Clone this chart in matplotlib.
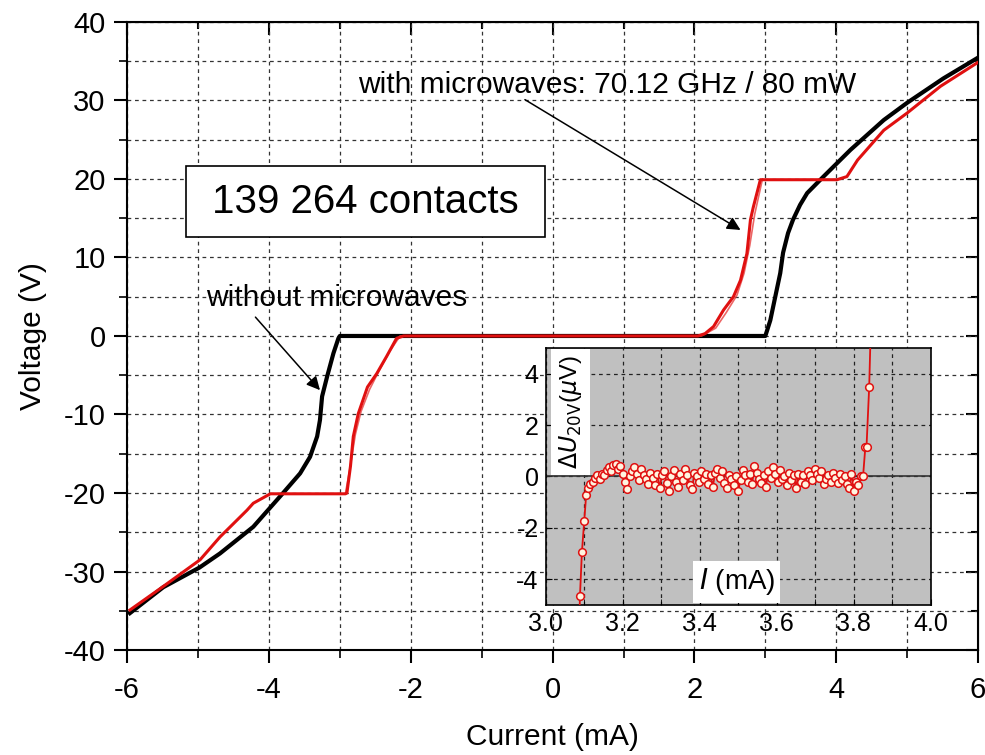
import numpy as np
import matplotlib.pyplot as plt
from matplotlib.patches import Rectangle

plt.rcParams['font.family'] = ['Liberation Sans', 'DejaVu Sans']

# main I-V curves (current in mA, voltage in V)
black_i = [-5.96, -5.49, -4.98, -4.69, -4.22, -3.80, -3.56, -3.42, -3.32, -3.28,
           -3.25, -3.18, -3.09, -3.02, -3.0, 3.0, 3.07, 3.14, 3.21, 3.25, 3.32,
           3.39, 3.49, 3.59, 3.82, 4.2, 4.67, 5.0, 5.51, 5.99]
black_v = [-35.3, -32.0, -29.5, -27.7, -24.3, -20.0, -17.5, -15.4, -12.8, -10.7,
           -7.7, -5.2, -2.2, -0.3, 0.0, 0.0, 2.0, 5.0, 8.0, 10.6, 13.1,
           14.8, 16.7, 18.2, 20.3, 23.7, 27.5, 29.7, 32.8, 35.4]

red_i = [-5.96, -5.49, -4.97, -4.69, -4.31, -4.22, -3.98, -2.92, -2.9, -2.85,
         -2.81, -2.74, -2.61, -2.48, -2.34, -2.2, -2.1, 2.05, 2.15, 2.27, 2.41,
         2.55, 2.65, 2.74, 2.79, 2.83, 2.93, 4.01, 4.15, 4.30, 4.67, 5.0, 5.47, 5.99]
red_v = [-34.9, -31.9, -28.5, -25.6, -22.2, -21.3, -20.1, -20.1, -20.0, -16.6,
         -12.8, -9.9, -6.5, -4.8, -2.6, -0.3, 0.0, 0.0, 0.3, 1.2, 3.3,
         5.0, 7.1, 10.5, 14.8, 16.4, 19.9, 19.9, 20.3, 22.4, 26.2, 28.4, 31.8, 34.8]

# second (return) sweep with microwaves, visible only on the steps
red2_i = [-2.92, -2.86, -2.78, -2.70, -2.58, -2.45, -2.30, -2.15,
          2.10, 2.30, 2.45, 2.60, 2.70, 2.78, 2.85, 2.96]
red2_v = [-20.0, -17.0, -12.5, -9.6, -6.8, -4.5, -2.0, 0.0,
          0.0, 1.0, 3.0, 5.2, 8.0, 11.5, 15.5, 20.0]

# inset: deviation from the 20 V step
inset_i = [3.089, 3.094, 3.100, 3.105,
           3.110, 3.116, 3.122, 3.128, 3.134, 3.140, 3.146, 3.152, 3.158, 3.164,
           3.170, 3.176, 3.182, 3.188, 3.194, 3.200, 3.206, 3.212, 3.218, 3.224,
           3.230, 3.236, 3.242, 3.248, 3.254, 3.260, 3.266, 3.272, 3.278, 3.284,
           3.290, 3.296, 3.302, 3.308, 3.314, 3.320, 3.326, 3.332, 3.338, 3.344,
           3.350, 3.356, 3.362, 3.368, 3.374, 3.380, 3.386, 3.392, 3.398, 3.404,
           3.410, 3.416, 3.422, 3.428, 3.434, 3.440, 3.446, 3.452, 3.458, 3.464,
           3.470, 3.476, 3.482, 3.488, 3.494, 3.500, 3.506, 3.512, 3.518, 3.524,
           3.530, 3.536, 3.542, 3.548, 3.554, 3.560, 3.566, 3.572, 3.578, 3.584,
           3.590, 3.596, 3.602, 3.608, 3.614, 3.620, 3.626, 3.632, 3.638, 3.644,
           3.650, 3.656, 3.662, 3.668, 3.674, 3.680, 3.686, 3.692, 3.698, 3.704,
           3.710, 3.716, 3.722, 3.728, 3.734, 3.740, 3.746, 3.752, 3.758, 3.764,
           3.770, 3.776, 3.782, 3.788, 3.794, 3.800, 3.806, 3.812, 3.818,
           3.824, 3.830, 3.833, 3.840]
inset_du = [-4.65, -2.96, -1.72, -0.74,
            -0.45, -0.30, -0.20, -0.05, 0.05, -0.10, 0.10, 0.05, 0.25, 0.35,
            0.20, 0.45, 0.50, 0.30, 0.40, 0.10, -0.20, -0.50, 0.00, 0.20,
            0.35, 0.10, -0.15, 0.30, 0.05, -0.10, -0.30, 0.15, -0.05, -0.35,
            0.10, -0.45, 0.05, 0.20, -0.25, -0.55, 0.00, 0.25, -0.20, -0.40,
            0.10, -0.15, 0.30, 0.05, -0.35, -0.50, 0.15, 0.00, -0.20, 0.20,
            -0.10, 0.10, -0.30, 0.05, -0.40, 0.15, 0.30, -0.05, 0.20, -0.25,
            -0.45, 0.05, -0.10, -0.35, 0.00, -0.55, -0.15, 0.25, 0.05, -0.20,
            0.10, -0.30, 0.40, 0.15, -0.10, -0.25, 0.05, -0.40, 0.20, -0.05,
            0.35, 0.10, -0.20, 0.25, -0.10, 0.00, -0.35, 0.15, -0.15, 0.05,
            -0.45, 0.10, -0.20, 0.05, -0.30, 0.20, 0.05, -0.15, 0.30, 0.10,
            -0.05, 0.20, -0.30, -0.10, 0.05, -0.20, 0.15, -0.05, -0.25, 0.10,
            -0.15, 0.00, -0.30, -0.45, 0.10, -0.55, -0.20, -0.35, 0.00,
            0.00, 1.15, 1.15, 3.50]
# the connecting line runs out of the inset frame at both ends
line_i = [3.085] + inset_i + [3.848]
line_du = [-7.0] + inset_du + [8.0]

x_major = [-6, -4, -2, 0, 2, 4, 6]
y_major = [-40, -30, -20, -10, 0, 10, 20, 30, 40]

fig = plt.figure(figsize=(9.85, 7.55), dpi=100)
ax = fig.add_axes([0.129, 0.139, 0.864, 0.832])

ax.plot(black_i, black_v, color='black', lw=3.0, zorder=3)
ax.plot(red2_i, red2_v, color='#e84040', lw=1.2, alpha=0.8, zorder=4)
ax.plot(red_i, red_v, color='#e01010', lw=2.2, zorder=4)

ax.set_xlim(-6, 6)
ax.set_ylim(-40, 40)
ax.set_xticks(x_major)
ax.set_xticks(np.arange(-5, 6, 2), minor=True)
ax.set_yticks(y_major)
ax.set_yticks(np.arange(-35, 40, 10), minor=True)
ax.set_xticklabels([str(v) for v in x_major])
ax.set_yticklabels([str(v) for v in y_major])
ax.grid(True, which='both', ls=(0, (3, 3)), color='#333333', lw=0.9)
ax.tick_params(which='major', direction='out', length=9.5, width=1.5,
               labelsize=21, pad=6)
ax.tick_params(axis='x', which='major', pad=9)
ax.tick_params(which='minor', direction='out', length=6, width=1.2)
for s in ax.spines.values():
    s.set_linewidth(1.5)

# inward ticks on the top and right frame
top = ax.secondary_xaxis('top')
top.set_xticks(x_major)
top.set_xticks(np.arange(-5, 6, 2), minor=True)
top.tick_params(which='both', direction='in', labeltop=False, width=1.5)
top.tick_params(which='major', length=9)
top.tick_params(which='minor', length=5)
right = ax.secondary_yaxis('right')
right.set_yticks(y_major)
right.set_yticks(np.arange(-35, 40, 10), minor=True)
right.tick_params(which='both', direction='in', labelright=False, width=1.5)
right.tick_params(which='major', length=9)
right.tick_params(which='minor', length=5)

ax.set_xlabel('Current (mA)', fontsize=21.5, labelpad=14)
ax.set_ylabel('Voltage (V)', fontsize=21.5, labelpad=12)

ax.add_patch(Rectangle((-5.17, 12.6), 5.07, 9.06, fc='white', ec='black',
                       lw=1.2, zorder=6))
ax.text(-2.64, 17.0, '139 264 contacts', fontsize=29, ha='center', va='center',
        zorder=7)

ax.text(0.77, 32.0, 'with microwaves: 70.12 GHz / 80 mW', fontsize=21.5,
        ha='center', va='center', zorder=7)
ax.annotate('', xy=(2.65, 13.5), xytext=(-0.39, 30.1),
            arrowprops=dict(arrowstyle='-|>', color='black', lw=1.1,
                            mutation_scale=20, shrinkA=0, shrinkB=0))
ax.text(-3.04, 4.8, 'without microwaves', fontsize=21.5, ha='center',
        va='center', zorder=7)
ax.annotate('', xy=(-3.28, -6.9), xytext=(-4.19, 2.4),
            arrowprops=dict(arrowstyle='-|>', color='black', lw=1.1,
                            mutation_scale=20, shrinkA=0, shrinkB=0))

# inset
ins = fig.add_axes([0.554, 0.199, 0.391, 0.340])
ins.set_facecolor('#c0c0c0')
ins.plot(line_i, line_du, color='#e01010', lw=1.3, zorder=3)
ins.plot(inset_i, inset_du, ls='none', marker='o', ms=5.5, mfc='#fff4e0',
         mec='#e01010', mew=1.1, zorder=4)
ins.axhline(0, color='#333333', lw=1.2, zorder=2)
ins.set_xlim(3.0, 4.0)
ins.set_ylim(-5, 5)
ins.set_xticks(np.arange(3.0, 4.01, 0.2))
ins.set_xticks(np.arange(3.1, 4.0, 0.2), minor=True)
ins.set_xticklabels(['3.0', '3.2', '3.4', '3.6', '3.8', '4.0'])
ins.set_yticks([-4, -2, 0, 2, 4])
ins.set_yticklabels(['-4', '-2', '0', '2', '4'])
ins.grid(True, which='both', ls=(0, (3, 3)), color='#222222', lw=0.9)
ins.tick_params(which='both', direction='in', length=4, labelsize=18, pad=5)
for s in ins.spines.values():
    s.set_linewidth(1.2)
ins.text(0.065, 0.75, r'$\Delta U_{\mathrm{20V}}$($\mu$V)', transform=ins.transAxes,
         rotation=90, fontsize=17, ha='center', va='center', zorder=6,
         bbox=dict(boxstyle='square,pad=0.25', fc='white', ec='none'))
ins.text(0.496, 0.09, r'$I$ (mA)', transform=ins.transAxes, fontsize=20,
         ha='center', va='center', zorder=6,
         bbox=dict(boxstyle='square,pad=0.2', fc='white', ec='none'))

fig.savefig('out.png', dpi=100)
